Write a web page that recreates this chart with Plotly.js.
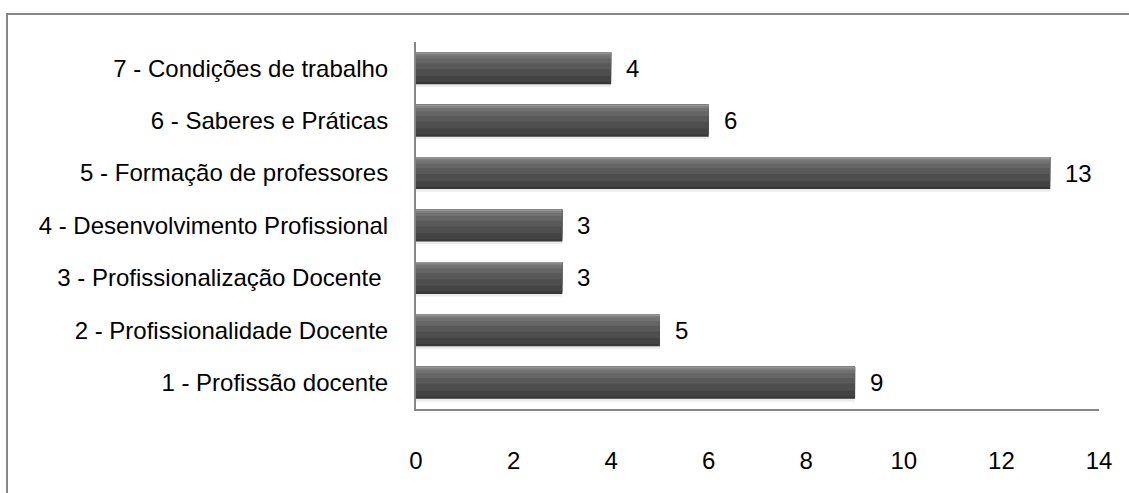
<!DOCTYPE html>
<html>
<head>
<meta charset="utf-8">
<script src="https://cdn.plot.ly/plotly-3.0.1.min.js"></script>
<style>
  html, body { margin: 0; padding: 0; background: #ffffff; }
  #wrap { position: relative; width: 1129px; height: 493px; overflow: hidden; background: #fff; }
  #frame { position: absolute; left: 6px; top: 13px; width: 1200px; height: 600px;
           border-left: 2px solid #878787; border-top: 2px solid #878787; box-sizing: border-box; }
  #chart { position: absolute; left: 0; top: 0; width: 1129px; height: 493px; }
</style>
</head>
<body>
<div id="wrap">
  <div id="frame"></div>
  <div id="chart"></div>
</div>
<script>
const categories = [
  "1 - Profissão docente",
  "2 - Profissionalidade Docente",
  "3 - Profissionalização Docente ",
  "4 - Desenvolvimento Profissional",
  "5 - Formação de professores",
  "6 - Saberes e Práticas",
  "7 - Condições de trabalho"
];
const values = [9, 5, 3, 3, 13, 6, 4];
const xTicks = [0, 2, 4, 6, 8, 10, 12, 14];

const FONT = "Liberation Sans, Arial, sans-serif";
const FS = 24;
const half = 0.305;

// layered bars to imitate the shaded (gradient) bar style
const layers = [
  { color: "rgba(0,0,0,0.08)", offset: -half - 0.05, width: 2 * half + 0.02 },
  { color: "#363636", offset: -half, width: 2 * half },
  { color: "#434343", offset: -half + 0.04, width: 2 * half - 0.04 },
  { color: "#4e4e4e", offset: -0.15, width: half + 0.15 },
  { color: "#595959", offset: -0.02, width: half + 0.02 },
  { color: "#656565", offset: 0.09, width: half - 0.09 },
  { color: "#727272", offset: 0.18, width: half - 0.18 },
  { color: "#7e7e7e", offset: 0.24, width: half - 0.24 },
  { color: "#959595", offset: 0.275, width: half - 0.275 }
];

const traces = layers.map(L => ({
  type: "bar",
  orientation: "h",
  x: values,
  y: categories,
  offset: L.offset,
  width: L.width,
  marker: { color: L.color, line: { width: 0 } },
  hoverinfo: "skip",
  showlegend: false
}));

const annotations = values.map((v, i) => ({
  x: v,
  y: categories[i],
  xref: "x",
  yref: "y",
  text: String(v),
  showarrow: false,
  xanchor: "left",
  yanchor: "middle",
  xshift: 13,
  font: { family: FONT, size: FS, color: "#000" }
}));

const layout = {
  width: 1129,
  height: 493,
  paper_bgcolor: "rgba(0,0,0,0)",
  plot_bgcolor: "rgba(0,0,0,0)",
  margin: { l: 416, r: 30, t: 42, b: 84, pad: 0 },
  barmode: "overlay",
  showlegend: false,
  xaxis: {
    range: [0, 14],
    tickvals: xTicks,
    ticktext: xTicks.map(String),
    showgrid: false,
    zeroline: false,
    showline: true,
    linecolor: "#868686",
    linewidth: 2,
    ticks: "",
    ticklabelstandoff: 29,
    tickfont: { family: FONT, size: FS, color: "#000" },
    fixedrange: true
  },
  yaxis: {
    type: "category",
    categoryorder: "array",
    categoryarray: categories,
    range: [-0.5, 6.5],
    showgrid: false,
    zeroline: false,
    showline: true,
    linecolor: "#868686",
    linewidth: 2,
    ticks: "",
    ticklabelstandoff: 21,
    tickfont: { family: FONT, size: FS, color: "#000" },
    fixedrange: true
  },
  annotations: annotations
};

Plotly.newPlot("chart", traces, layout, { displayModeBar: false, staticPlot: true });
</script>
</body>
</html>
